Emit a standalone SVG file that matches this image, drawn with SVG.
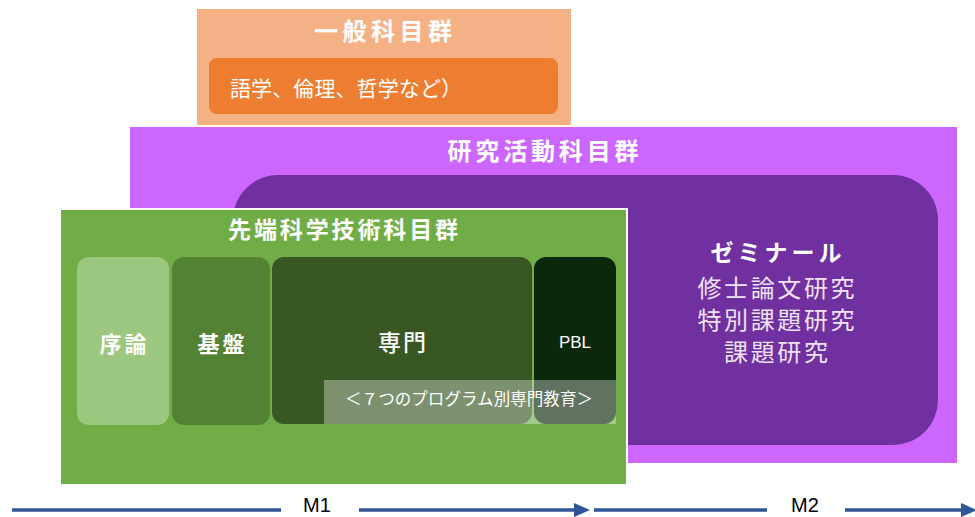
<svg xmlns="http://www.w3.org/2000/svg" width="975" height="517" viewBox="0 0 975 517">
<style>
text{font-family:"Noto Sans CJK JP","Noto Sans",sans-serif;fill:#fff}
.b{font-weight:bold}
.lat{font-family:"Liberation Sans","Noto Sans CJK JP",sans-serif}
.sem{fill:#EEE2F5;font-size:24px}
.ax{stroke:#2F5597;stroke-width:3.5;fill:none}
.ah{fill:#2F5597}
</style>
<rect width="975" height="517" fill="#fff"/>
<g id="general">
<rect x="197" y="9" width="374" height="116" fill="#F4B183"/>
<text class="b" x="383" y="40" font-size="24" text-anchor="middle" textLength="138" lengthAdjust="spacing">一般科目群</text>
<rect x="209" y="58" width="349" height="56" rx="8" fill="#ED7D31"/>
<text x="230" y="96" font-size="21" textLength="232" lengthAdjust="spacing">語学、倫理、哲学など）</text>
</g>
<g id="research">
<rect x="130" y="127" width="827" height="336" fill="#CC66FF"/>
<text class="b" x="543" y="160" font-size="24" text-anchor="middle" textLength="191" lengthAdjust="spacing">研究活動科目群</text>
</g>
<g id="seminar">
<rect x="233" y="175" width="705" height="270" rx="45" fill="#7030A0"/>
<text class="b" x="776" y="261" font-size="23" text-anchor="middle" textLength="131" lengthAdjust="spacing">ゼミナール</text>
<text class="sem" x="776" y="297" text-anchor="middle" textLength="157" lengthAdjust="spacing">修士論文研究</text>
<text class="sem" x="776" y="329" text-anchor="middle" textLength="157" lengthAdjust="spacing">特別課題研究</text>
<text class="sem" x="776" y="361" text-anchor="middle" textLength="104" lengthAdjust="spacing">課題研究</text>
</g>
<g id="advanced">
<rect x="60" y="209" width="567" height="276" fill="#70AD47" stroke="#fff" stroke-width="2"/>
<text class="b" x="343" y="238" font-size="23" text-anchor="middle" textLength="230" lengthAdjust="spacing">先端科学技術科目群</text>
</g>
<g id="intro">
<rect x="77" y="257" width="92" height="168" rx="12" fill="#9BC77E"/>
<text class="b" x="123" y="352" font-size="22" text-anchor="middle" textLength="47" lengthAdjust="spacing">序論</text>
</g>
<g id="basic">
<rect x="172" y="257" width="98" height="168" rx="12" fill="#548235"/>
<text class="b" x="221" y="352" font-size="22" text-anchor="middle" textLength="47" lengthAdjust="spacing">基盤</text>
</g>
<g id="specialty">
<rect x="272" y="257" width="260" height="167" rx="12" fill="#385723"/>
<text x="402" y="351" font-size="23" font-weight="500" text-anchor="middle" textLength="48" lengthAdjust="spacing">専門</text>
</g>
<g id="pbl">
<rect x="534" y="257" width="82" height="167" rx="12" fill="#0C280C"/>
<text class="lat" x="575" y="348" font-size="17" text-anchor="middle">PBL</text>
</g>
<g id="programs">
<rect x="324" y="380" width="292" height="44" fill="#fff" fill-opacity="0.35"/>
<text x="469" y="405" font-size="16.5" text-anchor="middle" textLength="248" lengthAdjust="spacing">＜７つのプログラム別専門教育＞</text>
</g>
<g id="connectors">
<line class="ax" x1="12" y1="510" x2="281" y2="510"/>
<line class="ax" x1="359" y1="510" x2="576" y2="510"/>
<polygon class="ah" points="574,503 590,510 574,517"/>
<line class="ax" x1="594" y1="510" x2="767" y2="510"/>
<line class="ax" x1="845" y1="510" x2="963" y2="510"/>
<polygon class="ah" points="961,503 977,510 961,517"/>
</g>
<g id="timeline-labels">
<text class="lat" x="317" y="512" font-size="20" text-anchor="middle" style="fill:#000">M1</text>
<text class="lat" x="805" y="512" font-size="20" text-anchor="middle" style="fill:#000">M2</text>
</g>
</svg>
